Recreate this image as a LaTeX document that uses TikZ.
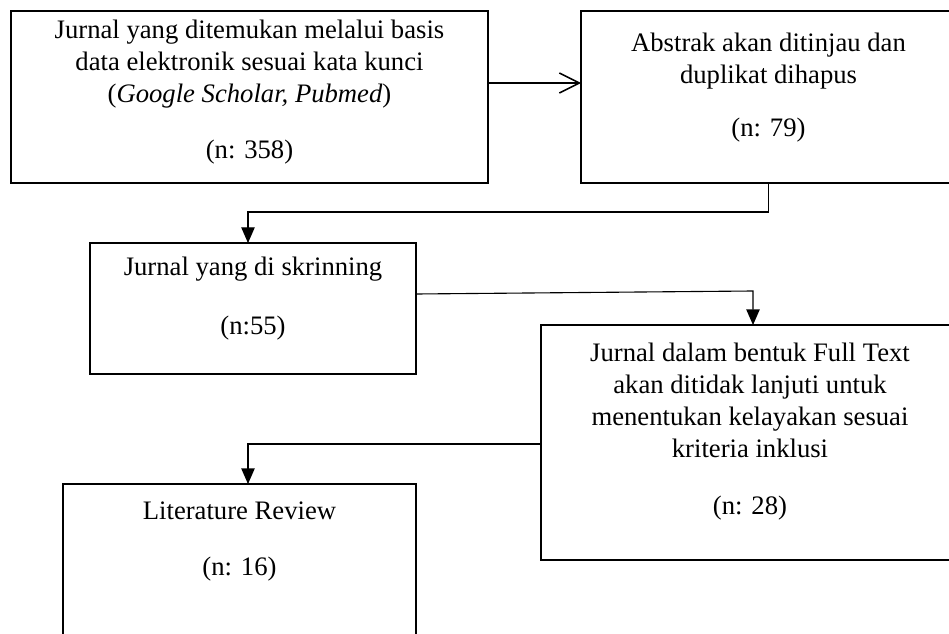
\documentclass[tikz,border=0pt]{standalone}
\usepackage{fontspec}
\setmainfont{Liberation Serif}
\usetikzlibrary{arrows.meta,fit}

\begin{document}
\begin{tikzpicture}[x=0.45pt, y=-0.45pt,
    box/.style={draw, line width=0.7pt, inner sep=0pt, outer sep=0pt},
    txt/.style={font=\fontsize{12}{14.4}\selectfont, align=center, inner sep=0pt, anchor=base},
    link/.style={line width=0.5pt, -{Triangle[length=7pt, width=6pt]}}]
  \useasboundingbox (0,0) rectangle (949,634);
  \clip (0,0) rectangle (949,634);
  % boxes, in pixel units (y grows downwards); some run past the page edge
  \node[box, fit={(11,11) (488,183)}] (cari) {};
  \node[box, fit={(581,11) (956,183)}] (abstrak) {};
  \node[box, fit={(90,243) (416,374)}] (skrining) {};
  \node[box, fit={(541,325) (959,560)}] (fulltext) {};
  \node[box, fit={(63,484) (416,660)}] (review) {};
  % texts, placed at the baseline of their last line
  \node[txt] (cari-t) at (249.5,159)
    {Jurnal yang ditemukan melalui basis\\data elektronik sesuai kata kunci\\(\textit{Google Scholar, Pubmed})\\[10.8pt](n: 358)};
  \node[txt] (abstrak-t) at (768.5,137)
    {Abstrak akan ditinjau dan\\duplikat dihapus\\[9.5pt](n: 79)};
  \node[txt] (skrining-t) at (253,334)
    {Jurnal yang di skrinning\\[12pt](n:55)};
  \node[txt] (fulltext-t) at (750,514)
    {Jurnal dalam bentuk Full Text\\akan ditidak lanjuti untuk\\menentukan kelayakan sesuai\\kriteria inklusi\\[11pt](n: 28)};
  \node[txt] (review-t) at (239.5,575)
    {Literature Review\\[10.8pt](n: 16)};
  % connectors
  \draw[line width=0.7pt, -{Straight Barb[length=9pt, width=9pt]}] (cari.east |- 0,83) -- (abstrak.west |- 0,83);
  \draw[link] (abstrak.south) -- ++(0,29) -| (skrining.north -| 248,0);
  \draw[link] (skrining.east |- 0,294) -- (753,291) -- (fulltext.north -| 753,0);
  \draw[link] (fulltext.west |- 0,444) -| (review.north -| 248,0);
\end{tikzpicture}
\end{document}
